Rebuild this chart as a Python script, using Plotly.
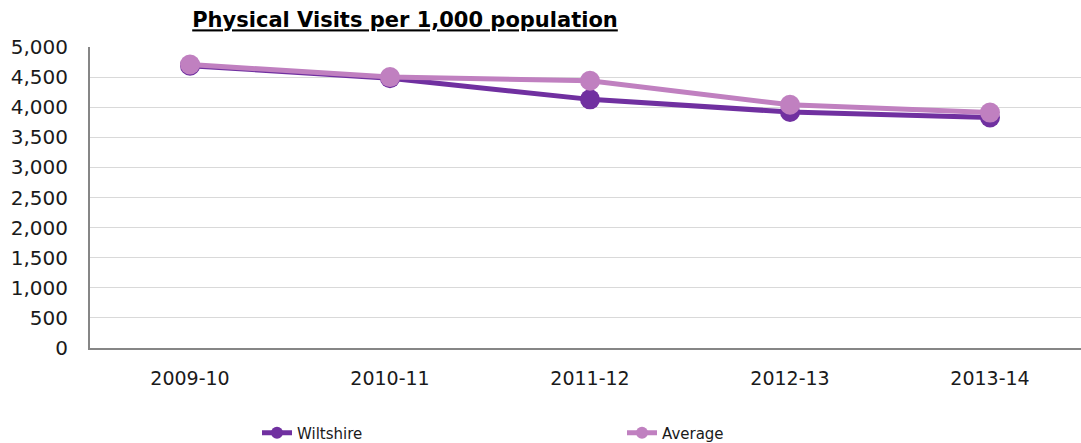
import plotly.graph_objects as go

categories = ["2009-10", "2010-11", "2011-12", "2012-13", "2013-14"]
wiltshire = [4690, 4480, 4130, 3920, 3830]
average = [4710, 4500, 4440, 4040, 3910]
y_ticks = [0, 500, 1000, 1500, 2000, 2500, 3000, 3500, 4000, 4500, 5000]

FONT = "DejaVu Sans"
C_W = "#7030A0"
C_A = "#C080C0"

fig = go.Figure()
fig.add_trace(go.Scatter(
    x=categories, y=wiltshire, name="Wiltshire", mode="lines+markers",
    line=dict(color=C_W, width=5), marker=dict(color=C_W, size=20),
))
fig.add_trace(go.Scatter(
    x=categories, y=average, name="Average", mode="lines+markers",
    line=dict(color=C_A, width=5), marker=dict(color=C_A, size=20),
))

fig.update_layout(
    width=1081, height=443,
    margin=dict(l=90, r=0, t=47, b=95, autoexpand=False),
    paper_bgcolor="white", plot_bgcolor="white",
    font=dict(family=FONT, color="#1a1a1a"),
    title=dict(
        text="<b><u>Physical Visits per 1,000 population</u></b>",
        x=405 / 1081, xref="container", xanchor="center",
        y=1 - 20 / 443, yref="container", yanchor="middle",
        font=dict(family=FONT, size=21, color="black"),
    ),
    showlegend=True,
    legend=dict(
        orientation="h", xref="container", yref="container",
        x=257 / 1081, xanchor="left", y=1 - 433 / 443, yanchor="middle",
        entrywidth=320, entrywidthmode="pixels",
        font=dict(family=FONT, size=15, color="#1a1a1a"),
        itemsizing="constant",
    ),
    xaxis=dict(
        type="category", range=[-0.5, 4.455], automargin=False,
        showgrid=False, showline=True, linecolor="#868686", linewidth=2,
        ticks="", ticklabelstandoff=12,
        tickfont=dict(family=FONT, size=19, color="#1a1a1a"),
    ),
    yaxis=dict(
        range=[0, 5000], tickvals=y_ticks, tickformat=",d", automargin=False,
        showgrid=True, gridcolor="#d9d9d9", gridwidth=1,
        showline=True, linecolor="#868686", linewidth=2,
        ticks="", ticklabelstandoff=16, zeroline=False,
        tickfont=dict(family=FONT, size=20, color="#1a1a1a"),
    ),
)

fig.write_html(
    "out.html",
    config={"displayModeBar": False},
    post_script="document.body.style.margin='0';document.body.style.overflow='hidden';",
)
